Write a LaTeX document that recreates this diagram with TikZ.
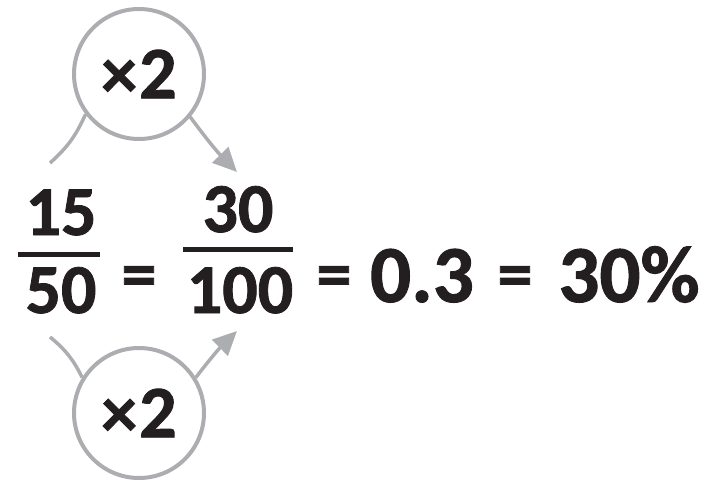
\documentclass[tikz,border=0pt]{standalone}
\usepackage{fontspec}
\setmainfont{Carlito}[BoldFeatures={FakeBold=1.2}]
\usetikzlibrary{arrows.meta}
\definecolor{ink}{RGB}{35,31,32}
\definecolor{ring}{RGB}{172,173,176}
\begin{document}
\begin{tikzpicture}[x=1pt,y=-1pt,
  num/.style={anchor=base,inner sep=0pt,text=ink,font=\fontsize{70}{70}\selectfont\bfseries},
  big/.style={anchor=base,inner sep=0pt,text=ink,font=\fontsize{81}{81}\selectfont\bfseries},
  eq/.style={inner sep=0pt,text=ink,font=\fontsize{70}{70}\selectfont\bfseries},
  times/.style={circle,draw=ring,line width=4pt,minimum size=130pt,inner sep=0pt,text=ink,font=\fontsize{74}{74}\selectfont\bfseries},
  link/.style={draw=ring,line width=3.5pt},
  arrowlink/.style={link,-{Triangle[length=24pt,width=22pt]}}]
\useasboundingbox (0,0) rectangle (712,484);
% fractions
\node[num] (n15) at (61,235) {15};
\node[num] (n50) at (61,313) {50};
\draw[ink,line width=5pt] (18,254) -- (100,254);
\node[eq] (e1) at (139,282) {=};
\node[num] (n30) at (238,232) {30};
\node[num] (n100) at (240,313) {100};
\draw[ink,line width=5pt] (183,249) -- (293,249);
\node[eq] (e2) at (334,282) {=};
\node[big] (d03) at (422,302) {0.3};
\node[eq] (e3) at (515,282) {=};
\node[big] (p30) at (629,302) {30\%};
% circles
\node[times] (top) at (139,74) {{\fontsize{72}{72}\selectfont×}\kern2pt 2};
\node[times] (bot) at (139,413) {{\fontsize{72}{72}\selectfont×}\kern2pt 2};
% connectors
\coordinate (tl) at (50,163);
\coordinate (tr) at (237,172);
\coordinate (bl) at (50,337);
\coordinate (br) at (237,331);
\draw[link] (tl) to[bend right=12] (top.217);
\draw[arrowlink] (top.-40) to[bend right=4] (tr);
\draw[link] (bl) to[bend left=12] (bot.148);
\draw[arrowlink] (bot.32) to[bend left=4] (br);
\end{tikzpicture}
\end{document}
